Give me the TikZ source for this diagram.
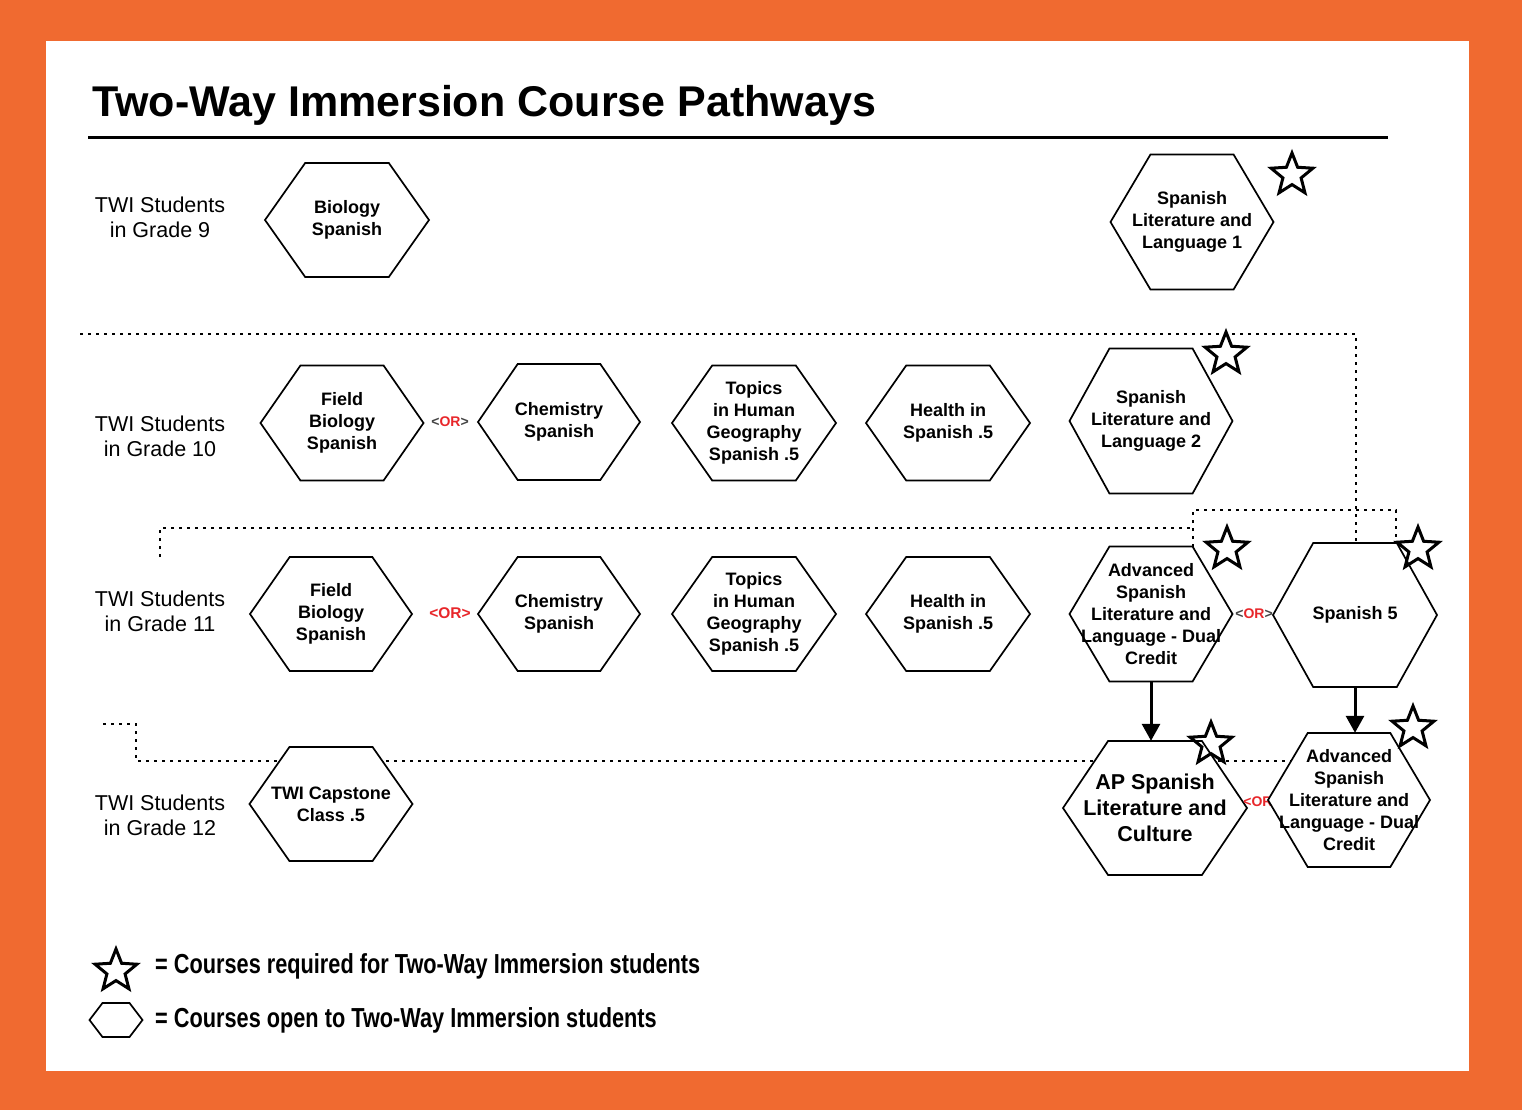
\documentclass[tikz,border=0pt]{standalone}
\usepackage{fontspec}
\setmainfont{Liberation Sans}
\usetikzlibrary{shapes.geometric,arrows.meta}
\definecolor{bgorange}{HTML}{F06A30}
\definecolor{orred}{HTML}{E8262A}
\definecolor{dgray}{HTML}{444444}
\tikzset{
  hexline/.style={draw=black, fill=white, line width=1.7, line join=miter},
  hexbox/.style={inner sep=0, align=center, font=\bfseries\fontsize{18}{22}\selectfont},
  rowlabel/.style={inner sep=0, align=center, font=\fontsize{21.5}{25}\selectfont},
  reqstar/.style={star, star points=5, star point ratio=2.3, minimum size=44, inner sep=0, draw, line width=3, line join=miter},
  dotline/.style={line width=2.4, dash pattern=on 2.6pt off 5.4pt},
  orlabel/.style={inner sep=1, font=\bfseries\fontsize{14}{16}\selectfont},
  arr/.style={line width=3, -{Triangle[length=17,width=18]}},
  legendtext/.style={anchor=west, inner sep=0, font=\bfseries\fontsize{27.5}{30}\selectfont}
}
% #1 extra style, #2 name, #3 cx, #4 cy, #5 width, #6 height, #7 text
\newcommand\hexa[7][]{%
  \path[hexline] ({#3-#5/2},{#4}) -- ({#3-#5/2+0.245*#5},{#4-#6/2}) -- ({#3+#5/2-0.245*#5},{#4-#6/2})
    -- ({#3+#5/2},{#4}) -- ({#3+#5/2-0.245*#5},{#4+#6/2}) -- ({#3-#5/2+0.245*#5},{#4+#6/2}) -- cycle;
  \node[hexbox, minimum width=#5, minimum height=#6, #1] (#2) at (#3,#4) {#7};%
}
\begin{document}
\begin{tikzpicture}[x=1pt,y=-1pt]
\useasboundingbox (0,0) rectangle (1522,1110);
\fill[bgorange] (0,0) rectangle (1522,1110);
\fill[white] (46,41) rectangle (1469,1071);

% title
\node[anchor=base west, inner sep=0, font=\bfseries\fontsize{43}{50}\selectfont] (title) at (92,117) {Two-Way Immersion Course Pathways};
\draw[line width=3] (88,138) -- (1388,138);

% row labels
\node[rowlabel] (g9) at (160,217) {TWI Students\\in Grade 9};
\node[rowlabel] (g10) at (160,436) {TWI Students\\in Grade 10};
\node[rowlabel] (g11) at (160,611) {TWI Students\\in Grade 11};
\node[rowlabel] (g12) at (160,815) {TWI Students\\in Grade 12};

% dotted separators (under the hexagons)
\draw[dotline] (80,334) -- (1356,334) -- (1356,543);
\draw[dotline] (160,557) -- (160,528) -- (1193,528);
\draw[dotline] (1193,547) -- (1193,510) -- (1396,510) -- (1396,543);
\draw[dotline] (103,724) -- (136,724) -- (136,761) -- (1300,761);

% grade 9
\hexa{bio9}{347}{220}{164}{114}{Biology\\Spanish}
\hexa{sll1}{1192}{222}{163}{135}{Spanish\\Literature and\\Language 1}

% grade 10
\hexa{fb10}{342}{423}{163}{115}{Field\\Biology\\Spanish}
\hexa{ch10}{559}{422}{162}{116}{Chemistry\\Spanish}
\hexa{top10}{754}{423}{164}{115}{Topics\\in Human\\Geography\\Spanish .5}
\hexa{he10}{948}{423}{164}{115}{Health in\\Spanish .5}
\hexa{sll2}{1151}{421}{163}{145}{Spanish\\Literature and\\Language 2}

% grade 11
\hexa{fb11}{331}{614}{162}{114}{Field\\Biology\\Spanish}
\hexa{ch11}{559}{614}{162}{114}{Chemistry\\Spanish}
\hexa{top11}{754}{614}{164}{114}{Topics\\in Human\\Geography\\Spanish .5}
\hexa{he11}{948}{614}{164}{114}{Health in\\Spanish .5}
\hexa{adv11}{1151}{614}{163}{135}{Advanced\\Spanish\\Literature and\\Language - Dual\\Credit}
\hexa{sp5}{1355}{615}{164}{144}{Spanish 5}

% grade 12
\hexa{cap}{331}{804}{163}{114}{TWI Capstone\\Class .5}
\hexa[font=\bfseries\fontsize{21.5}{26}\selectfont]{ap}{1155}{808}{184}{134}{AP Spanish\\Literature and\\Culture}
\node[orlabel, text=orred] (or4) at (1262,802) {<OR>};
\hexa{adv12}{1349}{800}{162}{134}{Advanced\\Spanish\\Literature and\\Language - Dual\\Credit}

% OR labels
\node[orlabel] (or1) at (450,422) {\textcolor{dgray}{<}\textcolor{orred}{OR}\textcolor{dgray}{>}};
\node[orlabel, text=orred, font=\bfseries\fontsize{15.5}{18}\selectfont] (or2) at (450,613) {<OR>};
\node[orlabel] (or3) at (1254,614) {\textcolor{dgray}{<}\textcolor{orred}{OR}\textcolor{dgray}{>}};

% arrows
\draw[arr] (adv11.south) -- (ap.north -| adv11.south);
\draw[arr] (sp5.south) -- (adv12.north -| sp5.south);

% required stars
\node[reqstar] (st1) at (1292,175) {};
\node[reqstar] (st2) at (1226,354) {};
\node[reqstar] (st3) at (1227,549) {};
\node[reqstar] (st4) at (1418,549) {};
\node[reqstar] (st5) at (1211,744) {};
\node[reqstar] (st6) at (1413,728) {};

% legend
\node[reqstar] (lstar) at (116,971) {};
\hexa{lhex}{116}{1020}{53}{34}{}
\node[legendtext] (l1) at (155,966) {\scalebox{0.79}[1]{= Courses required for Two-Way Immersion students}};
\node[legendtext] (l2) at (155,1020) {\scalebox{0.79}[1]{= Courses open to Two-Way Immersion students}};
\end{tikzpicture}
\end{document}
